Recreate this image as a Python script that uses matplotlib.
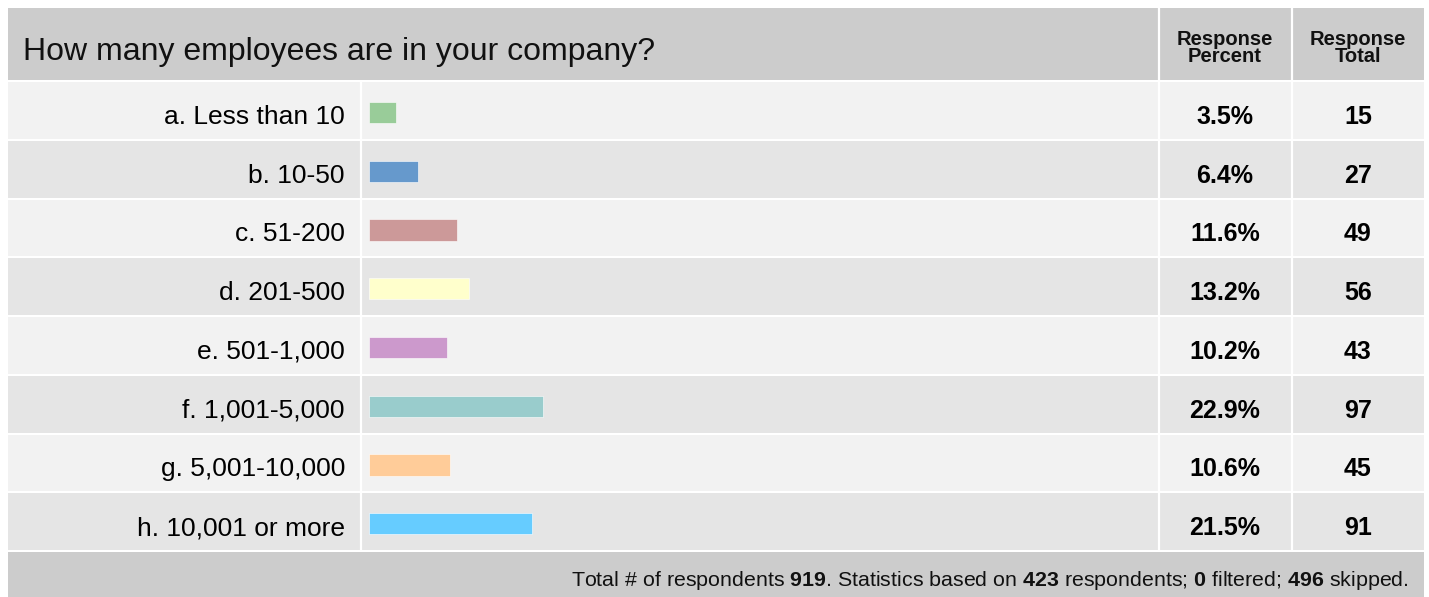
import matplotlib.pyplot as plt
import matplotlib.transforms as mtransforms
from matplotlib.patches import Rectangle

# chart data
question = "How many employees are in your company?"
categories = ["a. Less than 10", "b. 10-50", "c. 51-200", "d. 201-500",
              "e. 501-1,000", "f. 1,001-5,000", "g. 5,001-10,000", "h. 10,001 or more"]
percents = [3.5, 6.4, 11.6, 13.2, 10.2, 22.9, 10.6, 21.5]
totals = [15, 27, 49, 56, 43, 97, 45, 91]
bar_colors = ["#99cc99", "#6699cc", "#cc9999", "#ffffcc",
              "#cc99cc", "#99cccc", "#ffcc99", "#66ccff"]
col_headers = ["Response\nPercent", "Response\nTotal"]
n_total, n_based, n_filtered, n_skipped = 919, 423, 0, 496

plt.rcParams['font.family'] = ['Liberation Sans', 'DejaVu Sans']
plt.rcParams['mathtext.fontset'] = 'custom'
plt.rcParams['mathtext.rm'] = 'Liberation Sans'
plt.rcParams['mathtext.bf'] = 'Liberation Sans:bold'

W, H = 1429, 597
fig = plt.figure(figsize=(W / 100, H / 100), dpi=100, facecolor='white')

# background layer in pixel coordinates
bg = fig.add_axes([0, 0, 1, 1])
bg.set_xlim(0, W)
bg.set_ylim(H, 0)
bg.axis('off')

left, right = 8, 1424
top, head_bot = 8, 80
rows_top, pitch = 81, 58.75
n = len(categories)
rows_bot = rows_top + pitch * n
sep_x = [361, 1159, 1292]
pct_x, tot_x = 1225, 1358

# header and footer bands
bg.add_patch(Rectangle((left, top), right - left, head_bot - top, color='#cccccc', lw=0))
bg.add_patch(Rectangle((left, rows_bot + 1), right - left, H - rows_bot, color='#cccccc', lw=0))

# striped rows
for i in range(n):
    y0 = rows_top + pitch * i + 1
    c = '#f2f2f2' if i % 2 == 0 else '#e5e5e5'
    bg.add_patch(Rectangle((left, y0), right - left, pitch - 2, color=c, lw=0))

# white column separators
bg.plot([sep_x[0]] * 2, [head_bot + 1.5, rows_bot], color='white', lw=1.6,
        solid_capstyle='butt')
for x in sep_x[1:]:
    bg.plot([x] * 2, [top, rows_bot], color='white', lw=1.6, solid_capstyle='butt')

# header texts
bg.text(23, 60, question, fontsize=23, ha='left', va='baseline', color='#111111')
for x, h in zip([pct_x, tot_x], col_headers):
    bg.text(x, 48, h, fontsize=14.5, fontweight='bold', ha='center', va='center',
            linespacing=0.85, color='#111111')

# bar axes
ax = fig.add_axes([369 / W, (H - rows_bot) / H, 760 / W, (rows_bot - rows_top) / H])
ax.set_xlim(0, 100)
ax.set_ylim(n - 0.5, -0.5)
ax.axis('off')
ax.barh([i + 0.035 for i in range(n)], percents, height=0.36, color=bar_colors,
        edgecolor='white', linewidth=0.4)

# row labels and values
tr = mtransforms.blended_transform_factory(bg.transData, ax.transData)
for i in range(n):
    yb = i + 0.23
    bg.text(345, yb, categories[i], transform=tr, fontsize=19, ha='right', va='baseline')
    bg.text(pct_x, yb, f"{percents[i]:.1f}%", transform=tr, fontsize=18,
            fontweight='bold', ha='center', va='baseline')
    bg.text(tot_x, yb, str(totals[i]), transform=tr, fontsize=18,
            fontweight='bold', ha='center', va='baseline')

# footer
footer = (f"Total # of respondents $\\mathbf{{{n_total}}}$. Statistics based on "
          f"$\\mathbf{{{n_based}}}$ respondents; $\\mathbf{{{n_filtered}}}$ filtered; "
          f"$\\mathbf{{{n_skipped}}}$ skipped.")
bg.text(1409, 586, footer, fontsize=15.4, ha='right', va='baseline', color='#111111')

fig.savefig('out.png', dpi=100, facecolor='white')
